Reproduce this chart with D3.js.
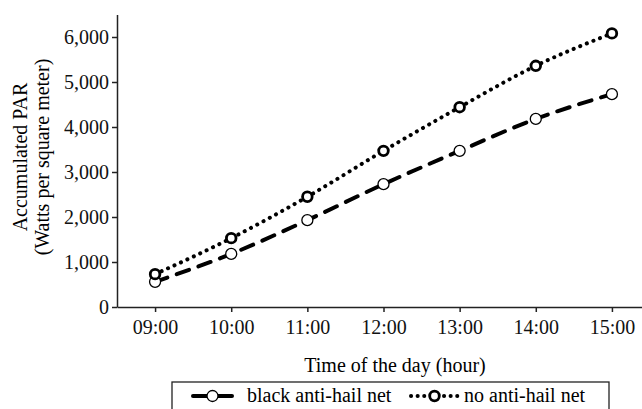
<!DOCTYPE html>
<html>
<head>
<meta charset="utf-8">
<script src="https://cdn.jsdelivr.net/npm/d3@7"></script>
<style>
  body { margin: 0; background: #fff; }
  svg { display: block; font-family: "Liberation Serif", "DejaVu Serif", serif; }
  .axis path, .axis line { stroke: #222; stroke-width: 1.5; }
  .axis text { font-size: 20px; fill: #111; font-family: "Liberation Serif", serif; }
</style>
</head>
<body>
<div id="chart"></div>
<script>
// time of day labels
var hours = ['09:00', '10:00', '11:00', '12:00', '13:00', '14:00', '15:00'];
// accumulated PAR (W/m2)
var blackNet = [560, 1180, 1930, 2730, 3470, 4180, 4730];
var noNet = [730, 1530, 2450, 3470, 4440, 5360, 6080];
var yTicks = [0, 1000, 2000, 3000, 4000, 5000, 6000];

var width = 642, height = 409;

var svg = d3.select('#chart').append('svg')
    .attr('width', width).attr('height', height);

var x = d3.scalePoint()
    .domain(hours)
    .range([117, 650])
    .padding(0.5);

var y = d3.scaleLinear()
    .domain([0, 6500])
    .range([307, 14.5]);

var xAxis = d3.axisBottom(x).tickSize(5).tickSizeOuter(0).tickPadding(8);
var yAxis = d3.axisLeft(y).tickValues(yTicks).tickFormat(d3.format(',')).tickSize(5).tickSizeOuter(0).tickPadding(3);

svg.append('g').attr('class', 'axis')
    .attr('transform', 'translate(0,307)')
    .call(xAxis);

svg.append('g').attr('class', 'axis')
    .attr('transform', 'translate(117,0)')
    .call(yAxis);

// axis titles
svg.append('text')
    .attr('x', 395).attr('y', 372)
    .attr('text-anchor', 'middle')
    .style('font-size', '20px')
    .text('Time of the day (hour)');

var yTitle = svg.append('text')
    .attr('transform', 'translate(0,157) rotate(-90)')
    .attr('text-anchor', 'middle')
    .style('font-size', '20px');
yTitle.append('tspan').attr('x', 0).attr('y', 27).text('Accumulated PAR');
yTitle.append('tspan').attr('x', 0).attr('y', 49).text('(Watts per square meter)');

var line = d3.line()
    .x(function(d, i) { return x(hours[i]); })
    .y(function(d) { return y(d); })
    .curve(d3.curveMonotoneX);

// series definitions
var series = [
    { name: 'black anti-hail net', values: blackNet, dash: '13 10', r: 5.5, sw: 1.3 },
    { name: 'no anti-hail net', values: noNet, dash: '0.1 7', r: 4.8, sw: 2.8 }
];

series.forEach(function(s) {
    svg.append('path')
        .datum(s.values)
        .attr('fill', 'none')
        .attr('stroke', '#000')
        .attr('stroke-width', 4)
        .attr('stroke-linecap', 'round')
        .attr('stroke-dasharray', s.dash)
        .attr('d', line);

    svg.selectAll(null)
        .data(s.values)
        .enter().append('circle')
        .attr('cx', function(d, i) { return x(hours[i]); })
        .attr('cy', function(d) { return y(d); })
        .attr('r', s.r)
        .attr('fill', '#fff')
        .attr('stroke', '#000')
        .attr('stroke-width', s.sw);
});

// legend
var legend = svg.append('g');
legend.append('rect')
    .attr('x', 172).attr('y', 382)
    .attr('width', 437).attr('height', 40)
    .attr('fill', '#fff')
    .attr('stroke', '#222')
    .attr('stroke-width', 1.3);

var legendItems = [
    { s: series[0], x0: 193, x1: 232, tx: 247, dash: null },
    { s: series[1], x0: 411, x1: 458, tx: 464, dash: '0.1 6.5' }
];

legendItems.forEach(function(it) {
    legend.append('line')
        .attr('x1', it.x0).attr('x2', it.x1)
        .attr('y1', 396).attr('y2', 396)
        .attr('stroke', '#000')
        .attr('stroke-width', 4)
        .attr('stroke-linecap', 'round')
        .attr('stroke-dasharray', it.dash);
    legend.append('circle')
        .attr('cx', (it.x0 + it.x1) / 2).attr('cy', 396)
        .attr('r', it.s.r)
        .attr('fill', '#fff')
        .attr('stroke', '#000')
        .attr('stroke-width', it.s.sw);
    legend.append('text')
        .attr('x', it.tx).attr('y', 402)
        .style('font-size', '20px')
        .text(it.s.name);
});
</script>
</body>
</html>
